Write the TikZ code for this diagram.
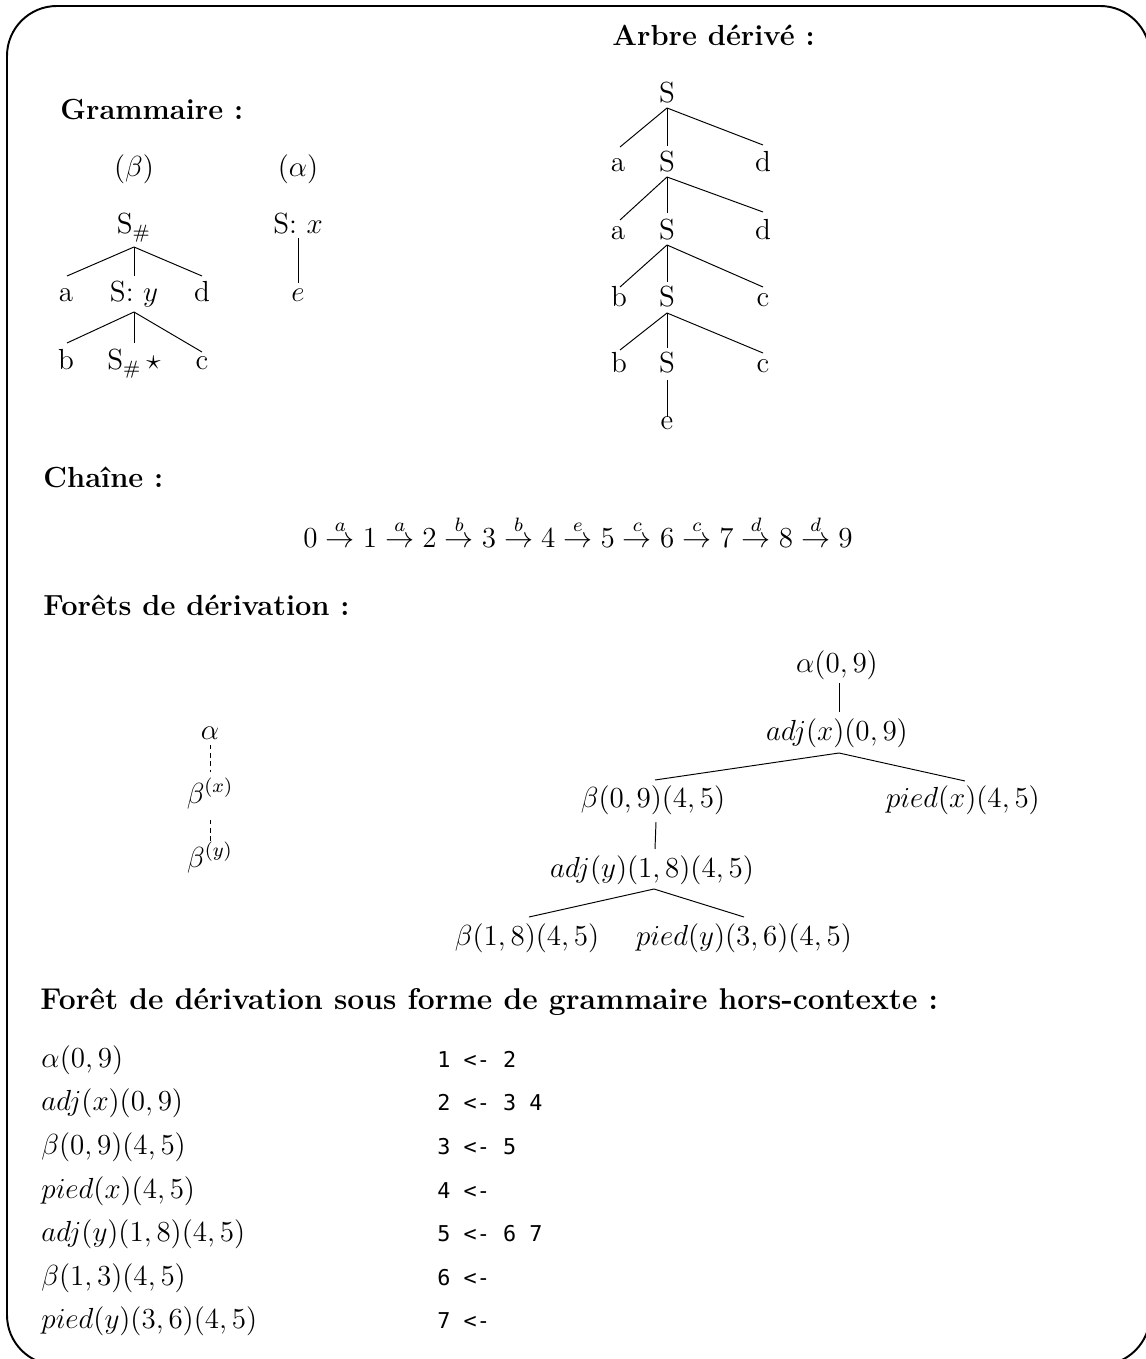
\documentclass[tikz,border=0pt]{standalone}
\usepackage{fontspec}
\newfontfamily\codefont{DejaVu Sans Mono}[Scale=0.9]
\usetikzlibrary{calc}
\begin{document}
\begin{tikzpicture}[x=0.413pt,y=-0.413pt,
  font=\fontsize{12}{14.4}\selectfont,
  hdr/.style={anchor=base west,inner sep=0pt,font=\fontsize{12}{14.4}\selectfont\bfseries},
  lbl/.style={anchor=base,inner sep=0pt},
  lst/.style={anchor=base west,inner sep=0pt},
  code/.style={anchor=base west,inner sep=0pt,font=\codefont},
  edge/.style={line width=0.4pt},
  dedge/.style={line width=0.4pt,dash pattern=on 1.8pt off 1.6pt}]
\useasboundingbox (0,0) rectangle (1146,1359);
\draw[line width=0.8pt,rounded corners=20.6pt] (7,6) rectangle (1150,1365);

% headers
\node[hdr] (hG) at (60,120) {Grammaire :};
\node[hdr] (hA) at (612,46) {Arbre dérivé :};
\node[hdr] (hC) at (43,487) {Chaîne :};
\node[hdr] (hF) at (43,615) {Forêts de dérivation :};
\node[hdr,font=\fontsize{12.4}{15}\selectfont\bfseries] (hFG) at (40,1009) {Forêt de dérivation sous forme de grammaire hors-contexte :};

% grammar trees
\node[lbl] (gbl) at (134,177) {($\beta$)};
\node[lbl] (gal) at (298,177) {($\alpha$)};
\node[lbl] (gS) at (134,234) {S$_\#$};
\node[lbl] (gSx) at (298,234) {S: $x$};
\node[lbl] (ga) at (66,302) {a};
\node[lbl] (gSy) at (134,302) {S: $y$};
\node[lbl] (gd) at (202,302) {d};
\node[lbl] (ge) at (298,302) {$e$};
\node[lbl] (gb) at (66,370) {b};
\node[lbl] (gSs) at (134,370) {S$_\#\,\star$};
\node[lbl] (gc) at (202,370) {c};
\draw[edge] ($(gS.base)+(0,13)$) -- ($(ga.base)+(1,-26)$);
\draw[edge] ($(gS.base)+(0,13)$) -- ($(gSy.base)+(0,-26)$);
\draw[edge] ($(gS.base)+(0,13)$) -- ($(gd.base)+(0,-26)$);
\draw[edge] ($(gSy.base)+(0,10)$) -- ($(gb.base)+(1,-27)$);
\draw[edge] ($(gSy.base)+(0,10)$) -- ($(gSs.base)+(0,-27)$);
\draw[edge] ($(gSy.base)+(0,10)$) -- ($(gc.base)+(0,-18)$);
\draw[edge] ($(gSx.base)+(0,4)$) -- ($(ge.base)+(0,-19)$);

% derived tree
\node[lbl] (dS0) at (667,103) {S};
\node[lbl] (da1) at (618,172) {a};
\node[lbl] (dS1) at (667,172) {S};
\node[lbl] (dd1) at (763,172) {d};
\node[lbl] (da2) at (618,240) {a};
\node[lbl] (dS2) at (667,240) {S};
\node[lbl] (dd2) at (763,240) {d};
\node[lbl] (db3) at (619,307) {b};
\node[lbl] (dS3) at (667,307) {S};
\node[lbl] (dc3) at (763,307) {c};
\node[lbl] (db4) at (619,373) {b};
\node[lbl] (dS4) at (667,373) {S};
\node[lbl] (dc4) at (763,373) {c};
\node[lbl] (de) at (667,430) {e};
\draw[edge] ($(dS0.base)+(0,5)$) -- ($(da1.base)+(2,-25)$);
\draw[edge] ($(dS0.base)+(0,5)$) -- ($(dS1.base)+(0,-26)$);
\draw[edge] ($(dS0.base)+(0,5)$) -- ($(dd1.base)+(0,-27)$);
\draw[edge] ($(dS1.base)+(0,5)$) -- ($(da2.base)+(2,-20)$);
\draw[edge] ($(dS1.base)+(0,5)$) -- ($(dS2.base)+(0,-27)$);
\draw[edge] ($(dS1.base)+(0,5)$) -- ($(dd2.base)+(0,-28)$);
\draw[edge] ($(dS2.base)+(0,5)$) -- ($(db3.base)+(1,-20)$);
\draw[edge] ($(dS2.base)+(0,5)$) -- ($(dS3.base)+(0,-25)$);
\draw[edge] ($(dS2.base)+(0,5)$) -- ($(dc3.base)+(0,-20)$);
\draw[edge] ($(dS3.base)+(0,6)$) -- ($(db4.base)+(1,-23)$);
\draw[edge] ($(dS3.base)+(0,6)$) -- ($(dS4.base)+(0,-25)$);
\draw[edge] ($(dS3.base)+(0,6)$) -- ($(dc4.base)+(0,-20)$);
\draw[edge] ($(dS4.base)+(0,7)$) -- ($(de.base)+(0,-13)$);

% chain
\node[lbl] (chain) at (578,547) {$0 \stackrel{a}{\to} 1 \stackrel{a}{\to} 2 \stackrel{b}{\to} 3 \stackrel{b}{\to} 4
  \stackrel{e}{\to} 5 \stackrel{c}{\to} 6 \stackrel{c}{\to} 7 \stackrel{d}{\to} 8
  \stackrel{d}{\to} 9$};

% left forest
\node[lbl] (fa) at (210,739) {$\alpha$};
\node[lbl] (fbx) at (210,803) {$\beta^{(x)}$};
\node[lbl] (fby) at (210,867) {$\beta^{(y)}$};
\draw[dedge] ($(fa.base)+(0,6)$) -- ($(fbx.base)+(0,-31)$);
\draw[dedge] ($(fbx.base)+(0,17)$) -- ($(fby.base)+(0,-23)$);

% right forest
\node[lbl] (r1) at (837,672) {$\alpha(0,9)$};
\node[lbl] (r2) at (837,740) {$adj(x)(0,9)$};
\node[lbl] (r3) at (653,807) {$\beta(0,9)(4,5)$};
\node[lbl] (r4) at (963,807) {$pied(x)(4,5)$};
\node[lbl] (r5) at (652,877) {$adj(y)(1,8)(4,5)$};
\node[lbl] (r6) at (527,945) {$\beta(1,8)(4,5)$};
\node[lbl] (r7) at (744,945) {$pied(y)(3,6)(4,5)$};
\draw[edge] ($(r1.base)+(2,11)$) -- ($(r2.base)+(2,-28)$);
\draw[edge] ($(r2.base)+(2,13)$) -- ($(r3.base)+(2,-27)$);
\draw[edge] ($(r2.base)+(2,13)$) -- ($(r4.base)+(2,-26)$);
\draw[edge] ($(r3.base)+(3,15)$) -- ($(r5.base)+(3,-28)$);
\draw[edge] ($(r5.base)+(2,12)$) -- ($(r6.base)+(2,-28)$);
\draw[edge] ($(r5.base)+(2,12)$) -- ($(r7.base)+(0,-28)$);

% grammar list
\node[lst] (l1) at (41,1067) {$\alpha(0,9)$};
\node[lst] (l2) at (41,1110) {$adj(x)(0,9)$};
\node[lst] (l3) at (41,1154) {$\beta(0,9)(4,5)$};
\node[lst] (l4) at (41,1198) {$pied(x)(4,5)$};
\node[lst] (l5) at (41,1241) {$adj(y)(1,8)(4,5)$};
\node[lst] (l6) at (41,1285) {$\beta(1,3)(4,5)$};
\node[lst] (l7) at (41,1328) {$pied(y)(3,6)(4,5)$};
\node[code] (c1) at (437,1067) {1 <- 2};
\node[code] (c2) at (437,1110) {2 <- 3 4};
\node[code] (c3) at (437,1154) {3 <- 5};
\node[code] (c4) at (437,1198) {4 <-};
\node[code] (c5) at (437,1241) {5 <- 6 7};
\node[code] (c6) at (437,1285) {6 <-};
\node[code] (c7) at (437,1328) {7 <-};
\end{tikzpicture}
\end{document}
